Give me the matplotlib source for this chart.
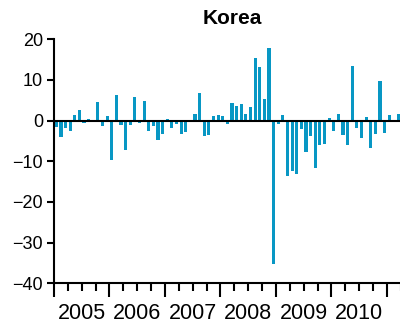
import numpy as np
import matplotlib
matplotlib.use('Agg')
import matplotlib.pyplot as plt

plt.rcParams['font.family'] = ['Liberation Sans', 'DejaVu Sans']

# monthly values, Jan 2005 .. Mar 2011
v2005 = [-1.6, -4.0, -1.8, -2.6, 1.3, 2.6, -0.6, 0.3, 0.1, 4.5, -1.3, 1.1]
v2006 = [-9.8, 6.3, -1.1, -7.2, -1.1, 5.8, -0.6, 4.8, -2.6, -1.3, -4.8, -3.3]
v2007 = [0.3, -1.8, -0.8, -3.3, -2.8, 0.0, 1.6, 6.7, -3.8, -3.5, 1.1, 1.3]
v2008 = [1.1, -0.8, 4.3, 3.5, 4.0, 1.6, 3.3, 15.4, 13.2, 5.3, 17.9, -35.2]
v2009 = [-0.8, 1.3, -13.7, -12.3, -13.2, -2.1, -7.8, -3.8, -11.7, -6.0, -5.8, 0.6]
v2010 = [-2.6, 1.6, -3.5, -6.0, 13.4, -1.8, -4.3, 0.8, -6.7, -3.3, 9.7, -3.0]
v2011 = [1.3, -0.3, 1.6]
years = [2005, 2006, 2007, 2008, 2009, 2010]
yticks = [-40, -30, -20, -10, 0, 10, 20]

vals = np.array(v2005 + v2006 + v2007 + v2008 + v2009 + v2010 + v2011)
x = np.arange(len(vals)) + 0.5

fig = plt.figure(figsize=(4, 3.26), dpi=100)
ax = fig.add_axes([0.135, 0.131, 1.025 - 0.135, 0.8794 - 0.131])

ax.bar(x, vals, width=0.68, color='#0897c4', zorder=2)
ax.axhline(0, color='black', lw=1.5, zorder=3)

ax.set_ylim(-40, 20)
ax.set_xlim(0, 77)
ax.set_yticks(yticks)
ax.set_yticklabels([str(t).replace('-', '\u2212') for t in yticks])

ax.spines['top'].set_visible(False)
ax.spines['right'].set_visible(False)
ax.spines['left'].set_linewidth(1.5)
ax.spines['bottom'].set_linewidth(1.5)

ax.tick_params(axis='y', length=5, width=1.5, labelsize=13, pad=3)
ax.set_xticks(np.arange(0, 84, 12))
ax.set_xticklabels([])
ax.set_xticks(np.arange(0, 78, 3), minor=True)
ax.tick_params(axis='x', which='major', length=10, width=1.5)
ax.tick_params(axis='x', which='minor', length=5.5, width=1.5)

sec = ax.secondary_xaxis('bottom')
sec.set_xticks([12 * i + 6 for i in range(len(years))])
sec.set_xticklabels([str(y) for y in years])
sec.tick_params(length=0, labelsize=15.5, pad=14)
sec.spines['bottom'].set_visible(False)

ax.set_title('Korea', fontsize=15, fontweight='bold', pad=11)

fig.savefig('out.png', dpi=100)
